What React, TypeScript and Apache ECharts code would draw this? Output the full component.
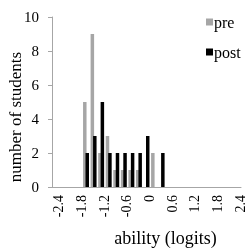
import React, { useEffect, useRef } from "react";
import * as echarts from "echarts";

const categories = [
  "-2.4", "-2.2", "-2", "-1.8", "-1.6", "-1.4", "-1.2", "-1", "-0.8", "-0.6", "-0.4", "-0.2", "0",
  "0.2", "0.4", "0.6", "0.8", "1", "1.2", "1.4", "1.6", "1.8", "2", "2.2", "2.4",
];
const preValues = [0, 0, 0, 0, 5, 9, 2, 3, 1, 1, 1, 1, 0, 2, 0, 0, 0, 0, 0, 0, 0, 0, 0, 0, 0];
const postValues = [0, 0, 0, 0, 2, 3, 5, 2, 2, 2, 2, 2, 3, 0, 2, 0, 0, 0, 0, 0, 0, 0, 0, 0, 0];

const FONT = "'Liberation Serif', 'Times New Roman', serif";

export default function App() {
  const ref = useRef<HTMLDivElement>(null);
  useEffect(() => {
    if (!ref.current) return;
    const chart = echarts.init(ref.current, undefined, { renderer: "svg" });
    chart.setOption({
      animation: false,
      textStyle: { fontFamily: FONT },
      grid: { left: 52, right: 9, top: 17, bottom: 63, outerBoundsMode: "none", containLabel: false },
      legend: {
        left: 201,
        top: 9,
        orient: "vertical",
        itemWidth: 7,
        itemHeight: 7,
        itemGap: 14,
        icon: "rect",
        textStyle: { fontFamily: FONT, fontSize: 16, lineHeight: 16, color: "#000", padding: [0, 0, 0, -4] },
        data: ["pre", "post"],
      },
      xAxis: {
        type: "category",
        data: categories,
        name: "ability (logits)",
        nameLocation: "middle",
        nameGap: 42,
        nameMoveOverlap: false,
        nameTextStyle: { fontFamily: FONT, fontSize: 18, color: "#000", padding: [0, 0, 0, 38] },
        axisLine: { lineStyle: { color: "#a6a6a6", width: 1 } },
        axisTick: { interval: 0, length: 4, lineStyle: { color: "#a6a6a6" } },
        axisLabel: {
          interval: 2,
          rotate: 90,
          fontFamily: FONT,
          fontSize: 14,
          color: "#000",
          margin: 8,
          verticalAlign: "top",
          lineHeight: 6,
        },
      },
      yAxis: {
        type: "value",
        min: 0,
        max: 10,
        interval: 2,
        name: "number of students",
        nameLocation: "middle",
        nameGap: 28,
        nameMoveOverlap: false,
        nameTextStyle: { fontFamily: FONT, fontSize: 17, color: "#000", padding: [0, 30, 0, 0] },
        axisLine: { show: true, lineStyle: { color: "#a6a6a6", width: 1 } },
        axisTick: { show: true, length: 4, lineStyle: { color: "#a6a6a6" } },
        splitLine: { show: false },
        axisLabel: { fontFamily: FONT, fontSize: 15, color: "#000", margin: 13 },
      },
      series: [
        {
          name: "pre",
          type: "bar",
          data: preValues,
          barWidth: 3.5,
          barGap: "-30%",
          itemStyle: { color: "#a6a6a6" },
        },
        {
          name: "post",
          type: "bar",
          data: postValues,
          barWidth: 3.5,
          barGap: "-30%",
          itemStyle: { color: "#000000" },
        },
      ],
    });
    return () => chart.dispose();
  }, []);
  return <div ref={ref} style={{ position: "fixed", left: 0, top: 0, width: 250, height: 250 }} />;
}
